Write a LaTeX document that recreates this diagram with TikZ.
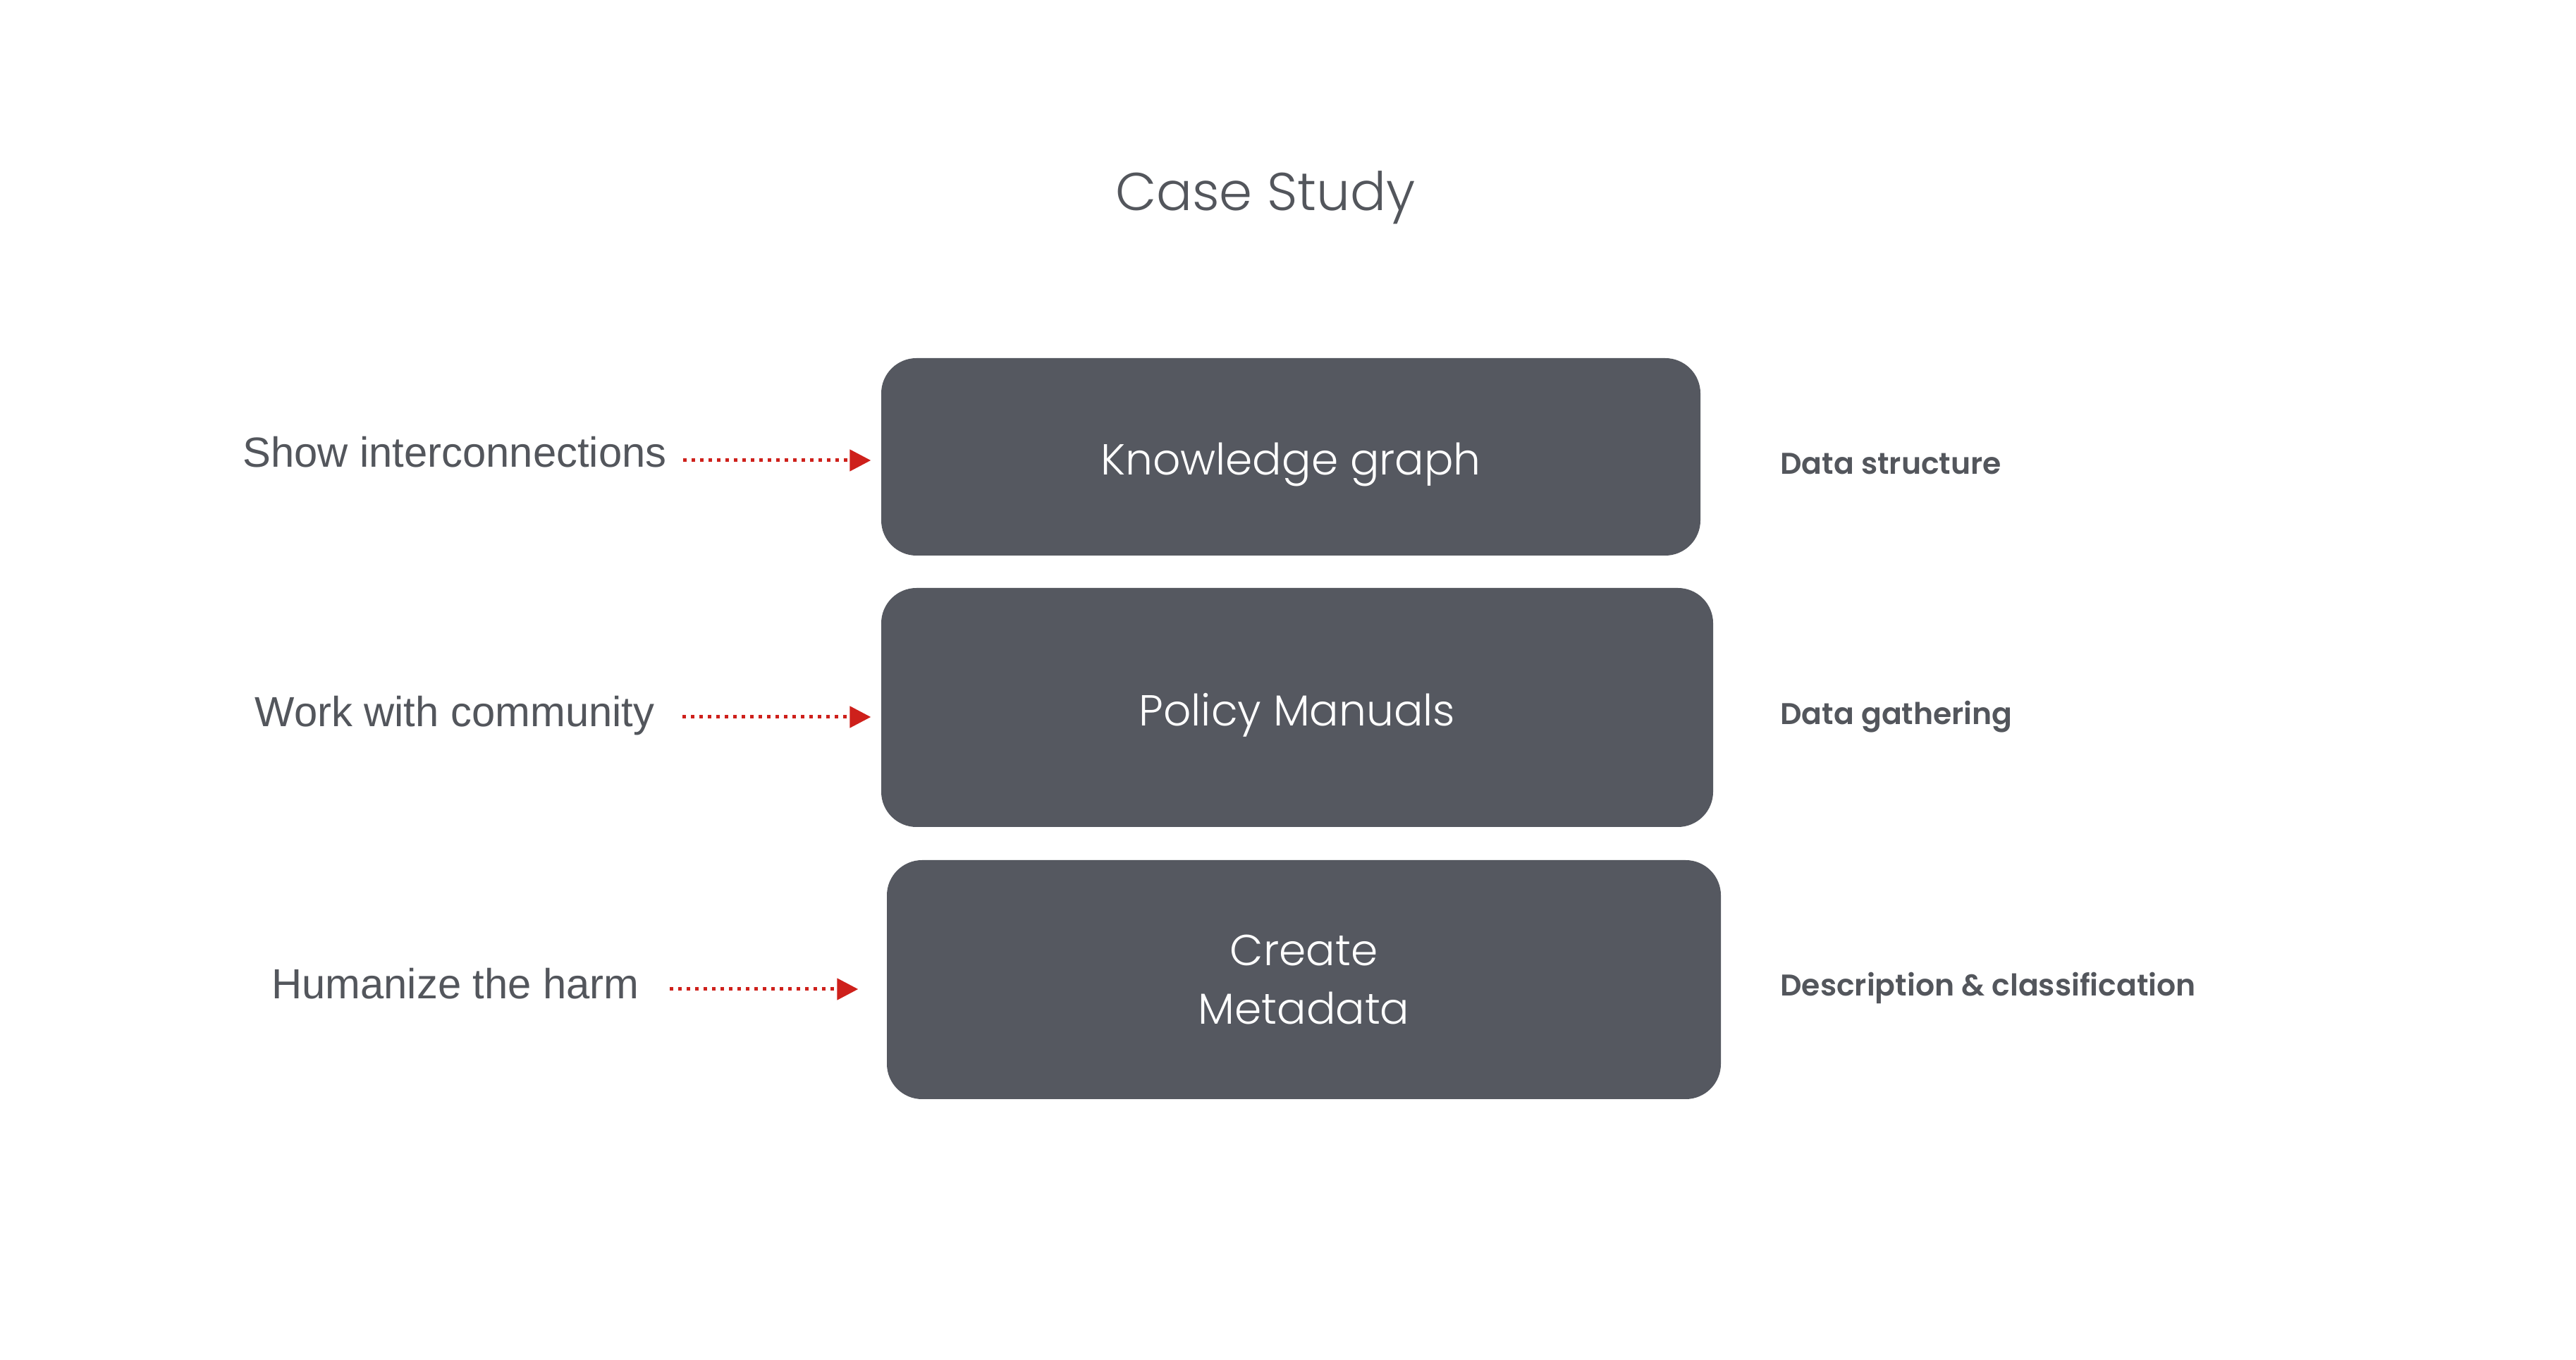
\documentclass[tikz,border=0pt]{standalone}
\usepackage{fontspec}
\setmainfont{Liberation Sans}
\IfFontExistsTF{Poppins Light}{\newfontfamily\thinfont{Poppins Light}}{\newfontfamily\thinfont{Poppins}}
\IfFontExistsTF{Poppins SemiBold}{\newfontfamily\heavyfont{Poppins SemiBold}}{\newfontfamily\heavyfont{Liberation Sans Bold}}
\usetikzlibrary{arrows.meta}

\definecolor{slate}{RGB}{85,88,96}
\definecolor{inkgray}{RGB}{83,86,92}
\definecolor{tipred}{RGB}{206,32,27}

\tikzset{
	layer/.style={fill=slate, rounded corners=0.5cm, text=white, align=center, inner sep=0pt,
		font=\thinfont\fontsize{17.5pt}{23.6pt}\selectfont},
	goal/.style={text=inkgray, anchor=base, font=\fontsize{17pt}{20pt}\selectfont},
	role/.style={text=inkgray, anchor=base west, font=\heavyfont\fontsize{12.1pt}{15pt}\selectfont},
	link/.style={draw=tipred, line width=0.5mm, dash pattern=on 0.5mm off 0.7mm,
		-{Triangle[length=3.0mm,width=3.0mm]}}
}

\begin{document}
\begin{tikzpicture} 
	\pgfsetxvec{\pgfpoint{1.cm}{0.0cm}} 
	\pgfsetyvec{\pgfpoint{0.0cm}{1.0cm}} 

	\fill[white] (0,0) rectangle (36.54,19.28);
	\useasboundingbox (0,0) rectangle (36.54,19.28);

	\node[] at (17.95,16.29) [anchor=base, text=inkgray, font=\thinfont\fontsize{21.5pt}{26pt}\selectfont] (title) {Case Study};

	% the three layers
	\node[layer] at (18.31,12.80) [minimum width=11.62cm, minimum height=2.80cm, text height=5.1mm, text depth=0pt] (kg) {Knowledge graph};
	\node[layer] at (18.40,9.245) [minimum width=11.80cm, minimum height=3.39cm, text height=5.2mm, text depth=0pt] (pm) {Policy Manuals};
	\node[layer] at (18.495,5.385) [minimum width=11.83cm, minimum height=3.39cm] (md) {Create\\Metadata};

	% why, on the left
	\node[goal] at (6.45,12.65) (why1) {Show interconnections};
	\node[goal] at (6.45,8.97) (why2) {Work with community};
	\node[goal] at (6.46,5.11) (why3) {Humanize the harm};

	% what, on the right
	\node[role] at (25.13,12.55) (what1) {Data structure};
	\node[role] at (25.13,9.00) (what2) {Data gathering};
	\node[role] at (25.13,5.15) (what3) {Description \& classification};

	\coordinate (s1) at (9.69,12.75);
	\coordinate (s2) at (9.68,9.11);
	\coordinate (s3) at (9.50,5.25);
	\path (s1) 
	edge[link, shorten >=1.4mm] (s1 -| kg.west) 
	(s2) 
	edge[link, shorten >=1.4mm] (s2 -| pm.west) 
	(s3) 
	edge[link, shorten >=4.0mm] (s3 -| md.west); 

\end{tikzpicture}
\end{document}
